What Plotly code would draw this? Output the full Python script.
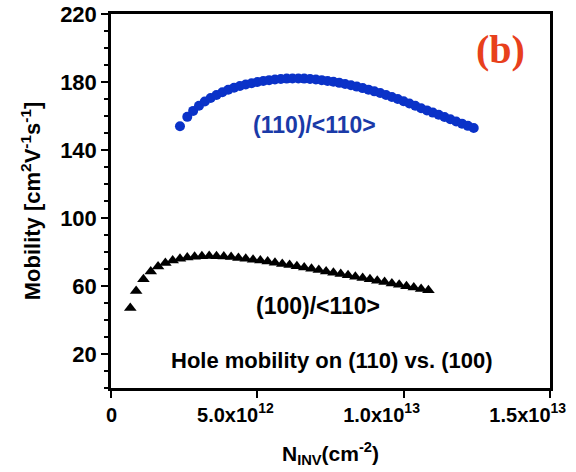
import plotly.graph_objects as go

# (110)/<110> hole mobility (blue circles)
n110_x = [2.35, 2.6, 2.8, 3.0, 3.2, 3.4, 3.6, 3.8, 4.0, 4.2, 4.4, 4.6, 4.8, 5.0, 5.2, 5.4,
          5.6, 5.8, 6.0, 6.2, 6.4, 6.6, 6.8, 7.0, 7.2, 7.4, 7.6, 7.8, 8.0, 8.2, 8.4, 8.6,
          8.8, 9.0, 9.2, 9.4, 9.6, 9.8, 10.0, 10.2, 10.4, 10.6, 10.8, 11.0, 11.2, 11.4,
          11.6, 11.8, 12.0, 12.2, 12.4]
mu110 = [154, 159.5, 163, 166, 168.5, 170.6, 172.4, 174, 175.4, 176.6, 177.6, 178.5, 179.3,
         180, 180.6, 181.1, 181.5, 181.8, 182, 182.1, 182.1, 182, 181.8, 181.5, 181.1, 180.6,
         180.1, 179.5, 178.8, 178.1, 177.3, 176.4, 175.5, 174.5, 173.5, 172.4, 171.2, 170.0,
         168.7, 167.4, 166.0, 164.6, 163.3, 162.0, 160.7, 159.4, 158.1, 156.8, 155.5, 154.2, 152.9]

# (100)/<110> hole mobility (black triangles)
n100_x = [0.65, 0.85, 1.1, 1.35, 1.6, 1.85, 2.1, 2.35, 2.6, 2.85, 3.1, 3.35, 3.6, 3.85, 4.1,
          4.35, 4.6, 4.85, 5.1, 5.35, 5.6, 5.85, 6.1, 6.35, 6.6, 6.85, 7.1, 7.35, 7.6, 7.85,
          8.1, 8.35, 8.6, 8.85, 9.1, 9.35, 9.6, 9.85, 10.1, 10.35, 10.6, 10.85]
mu100 = [47, 57, 64, 68.5, 71.5, 73.5, 75, 76, 76.7, 77.2, 77.5, 77.6, 77.5, 77.3, 77, 76.5,
         76, 75.5, 75, 74.4, 73.7, 73.0, 72.3, 71.6, 70.9, 70.1, 69.4, 68.6, 67.8, 67.0, 66.3,
         65.5, 64.7, 63.9, 63.1, 62.3, 61.5, 60.7, 59.9, 59.1, 58.3, 57.5]

x_tickvals = [0, 5e12, 1e13, 1.5e13]
x_ticktext = ["0", "5.0x10<sup>12</sup>", "1.0x10<sup>13</sup>", "1.5x10<sup>13</sup>"]
y_tickvals = [20, 60, 100, 140, 180, 220]

scale = 1e12
FONT = "Liberation Sans, Arial, sans-serif"
BLUE = "#0a32c8"
XRANGE = [-0.01e12, 1.501e13]

# labels are drawn shifted left (as in the reference); pad the "0" so it stays on its tick
x_labels = ["&nbsp;" * 8 + x_ticktext[0]] + x_ticktext[1:]

fig = go.Figure()
fig.add_trace(go.Scatter(
    x=[v * scale for v in n110_x], y=mu110, mode="markers",
    marker=dict(symbol="circle", size=10, color=BLUE),
    showlegend=False, cliponaxis=False))
fig.add_trace(go.Scatter(
    x=[v * scale for v in n100_x], y=mu100, mode="markers",
    marker=dict(symbol="triangle-up", size=11, color="black"),
    showlegend=False, cliponaxis=False))

tick_font = dict(family=FONT, size=20, color="black", weight="bold")

fig.update_layout(
    width=576, height=472,
    margin=dict(l=111, r=26, t=14, b=84, autoexpand=False),
    paper_bgcolor="white", plot_bgcolor="white",
    font=dict(family=FONT, size=21, color="black"),
    xaxis=dict(
        range=XRANGE, tickvals=x_tickvals, ticktext=x_labels,
        ticklabelshift=-22, ticklabeloverflow="allow",
        showline=True, linewidth=2.5, linecolor="black", mirror=True,
        ticks="outside", ticklen=7, tickwidth=2, tickcolor="black",
        showgrid=False, zeroline=False,
        tickfont=tick_font,
        title=dict(text="N<sub>INV</sub>(cm<sup>-2</sup>)", standoff=22,
                   font=dict(family=FONT, size=21, color="black", weight="bold")),
    ),
    yaxis=dict(
        range=[0, 220], tickvals=y_tickvals,
        showline=True, linewidth=2.5, linecolor="black", mirror=True,
        ticks="outside", ticklen=7, tickwidth=2, tickcolor="black",
        minor=dict(dtick=10, tick0=0, ticks="outside", ticklen=4, tickwidth=2, tickcolor="black"),
        showgrid=False, zeroline=False,
        tickfont=dict(family=FONT, size=22, color="black", weight="bold"),
        title=dict(text="Mobility [cm<sup>2</sup>V<sup>-1</sup>s<sup>-1</sup>]", standoff=14,
                   font=dict(family=FONT, size=22, color="black", weight="bold")),
    ),
    yaxis2=dict(
        overlaying="y", side="right", range=[0, 220], tickvals=y_tickvals,
        showticklabels=False, showline=False, showgrid=False, zeroline=False,
        ticks="inside", ticklen=6, tickwidth=2, tickcolor="black",
        minor=dict(dtick=10, tick0=0, ticks="inside", ticklen=4, tickwidth=2, tickcolor="black"),
    ),
)

fig.add_annotation(x=6.94e12, y=155, text="(110)/&lt;110&gt;", showarrow=False,
                   font=dict(family=FONT, size=23, color="#1a3aa8", weight="bold"))
fig.add_annotation(x=7.07e12, y=48, text="(100)/&lt;110&gt;", showarrow=False,
                   font=dict(family=FONT, size=23, color="black", weight="bold"))
fig.add_annotation(x=7.55e12, y=16, text="Hole mobility on (110) vs. (100)", showarrow=False,
                   font=dict(family=FONT, size=22, color="black", weight="bold"))
fig.add_annotation(x=1.33e13, y=199, text="(b)", showarrow=False,
                   font=dict(family="Liberation Serif, Times New Roman, serif", size=40,
                             color="#e8401c", weight="bold"))

fig.write_html("out.html")
